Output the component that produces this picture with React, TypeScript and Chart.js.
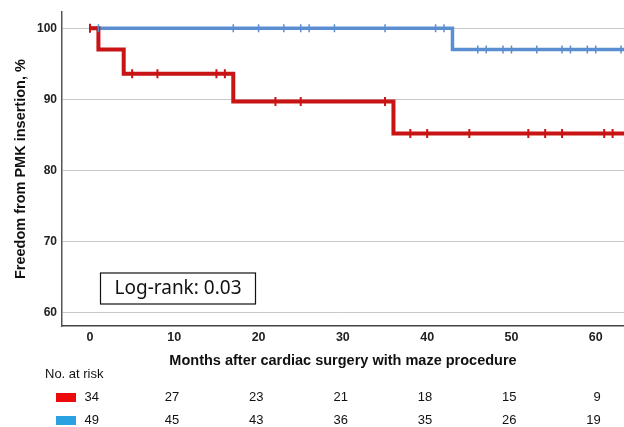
import React, { useEffect, useRef } from 'react';
import { Chart, registerables } from 'chart.js';

Chart.register(...registerables);

// Kaplan–Meier step data (months, % free from PMK insertion)
const redTimes = [0, 1, 4, 17, 36, 63.35];
const redSurvival = [100, 97.0, 93.6, 89.7, 85.2, 85.2];
const redCensorTimes = [0, 5, 8, 15, 16, 22, 25, 35, 38, 40, 45, 52, 54, 56, 61, 62];

const blueTimes = [0, 43, 63.35];
const blueSurvival = [100, 97.0, 97.0];
const blueCensorTimes = [1, 17, 20, 23, 25, 26, 29, 35, 41, 42, 46, 47, 49, 50, 53, 56, 57, 59, 60, 63];

const xTicks = [0, 10, 20, 30, 40, 50, 60];
const yTicks = [60, 70, 80, 90, 100];

const riskTimes = [0, 10, 20, 30, 40, 50, 60];
const redAtRisk = [34, 27, 23, 21, 18, 15, 9];
const blueAtRisk = [49, 45, 43, 36, 35, 26, 19];

const xTitle = 'Months after cardiac surgery with maze procedure';
const yTitle = 'Freedom from PMK insertion, %';
const logRankText = 'Log-rank: 0.03';
const riskHeader = 'No. at risk';

const RED = '#c81414';
const BLUE = '#5b8ed0';
const RED_SWATCH = '#ee0a0a';
const BLUE_SWATCH = '#2aa2e2';
const FONT = '"Liberation Sans", Arial, sans-serif';

function survivalAt(times: number[], surv: number[], t: number) {
  let v = surv[0];
  for (let i = 0; i < times.length; i++) if (times[i] <= t) v = surv[i];
  return v;
}

export default function App() {
  const ref = useRef<HTMLCanvasElement | null>(null);

  useEffect(() => {
    if (!ref.current) return;
    document.body.style.margin = '0';

    const overlay = {
      id: 'overlay',
      afterDraw(chart: any) {
        const ctx = chart.ctx;
        const xs = chart.scales.x;
        ctx.save();
        // Log-rank box
        ctx.strokeStyle = '#111';
        ctx.lineWidth = 1.2;
        ctx.strokeRect(100.5, 273, 155, 31);
        ctx.fillStyle = '#111';
        ctx.font = '19px "Noto Sans", sans-serif';
        ctx.textAlign = 'center';
        ctx.textBaseline = 'middle';
        ctx.fillText(logRankText, 178, 289);

        // Risk table
        ctx.font = `13px ${FONT}`;
        ctx.textAlign = 'left';
        ctx.fillStyle = '#111';
        ctx.fillText(riskHeader, 45, 374);
        ctx.fillStyle = RED_SWATCH;
        ctx.fillRect(56, 393, 20, 9);
        ctx.fillStyle = BLUE_SWATCH;
        ctx.fillRect(56, 416, 20, 9);
        ctx.fillStyle = '#111';
        ctx.textAlign = 'right';
        riskTimes.forEach((t, i) => {
          const px = xs.getPixelForValue(t) + (i === 0 ? 9 : 5);
          ctx.fillText(String(redAtRisk[i]), px, 397);
          ctx.fillText(String(blueAtRisk[i]), px, 420);
        });
        ctx.restore();
      },
    };

    const chart = new Chart(ref.current, {
      type: 'line',
      data: {
        datasets: [
          {
            label: 'blue censored',
            data: blueCensorTimes.map((t) => ({ x: t, y: survivalAt(blueTimes, blueSurvival, t) })),
            showLine: false,
            pointStyle: 'line',
            rotation: 90,
            pointRadius: 4,
            pointBorderWidth: 1.5,
            borderColor: BLUE,
            backgroundColor: BLUE,
            order: -1,
          },
          {
            label: 'red censored',
            data: redCensorTimes.map((t) => ({ x: t, y: survivalAt(redTimes, redSurvival, t) })),
            showLine: false,
            pointStyle: 'line',
            rotation: 90,
            pointRadius: 4.5,
            pointBorderWidth: 2,
            borderColor: RED,
            backgroundColor: RED,
            order: 0,
          },
          {
            label: 'red',
            data: redTimes.map((t, i) => ({ x: t, y: redSurvival[i] })),
            stepped: 'before',
            borderColor: RED,
            borderWidth: 4,
            pointRadius: 0,
            fill: false,
            order: 1,
          },
          {
            label: 'blue',
            data: blueTimes.map((t, i) => ({ x: t, y: blueSurvival[i] })),
            stepped: 'before',
            borderColor: BLUE,
            borderWidth: 3.5,
            pointRadius: 0,
            fill: false,
            order: 2,
          },
        ],
      },
      options: {
        responsive: false,
        animation: false,
        events: [],
        layout: { autoPadding: false, padding: { top: 12, left: 0, right: 0, bottom: 0 } },
        plugins: { legend: { display: false }, tooltip: { enabled: false } },
        scales: {
          x: {
            type: 'linear',
            min: -3.32,
            max: 63.35,
            afterBuildTicks: (s: any) => {
              s.ticks = xTicks.map((v) => ({ value: v }));
            },
            afterFit: (s: any) => {
              s.height = 101;
            },
            grid: { display: false, drawTicks: false },
            border: { display: true, color: '#444', width: 1.5 },
            ticks: {
              font: { family: FONT, size: 12.5, weight: 'bold' },
              color: '#222',
              padding: 4,
              maxRotation: 0,
              autoSkip: false,
            },
            title: {
              display: true,
              text: xTitle,
              font: { family: FONT, size: 14.5, weight: 'bold' },
              color: '#111',
              padding: { top: 0, bottom: 57.3 },
            },
          },
          y: {
            type: 'linear',
            min: 58.11,
            max: 102.25,
            afterBuildTicks: (s: any) => {
              s.ticks = yTicks.map((v) => ({ value: v }));
            },
            afterFit: (s: any) => {
              s.width = 62;
            },
            grid: { color: '#c8c8c8', lineWidth: 1, drawTicks: false },
            border: { display: true, color: '#555', width: 1.5 },
            ticks: {
              font: { family: FONT, size: 12, weight: 'bold' },
              color: '#222',
              padding: 5,
            },
            title: {
              display: true,
              text: yTitle,
              font: { family: FONT, size: 14.5, weight: 'bold' },
              color: '#111',
              padding: { top: 12.5, bottom: 0 },
            },
          },
        },
      },
      plugins: [overlay],
    } as any);

    return () => chart.destroy();
  }, []);

  return (
    <div style={{ position: 'absolute', left: 0, top: 0, width: 624, height: 427, background: '#fff' }}>
      <canvas ref={ref} width={624} height={427} style={{ display: 'block' }} />
    </div>
  );
}
